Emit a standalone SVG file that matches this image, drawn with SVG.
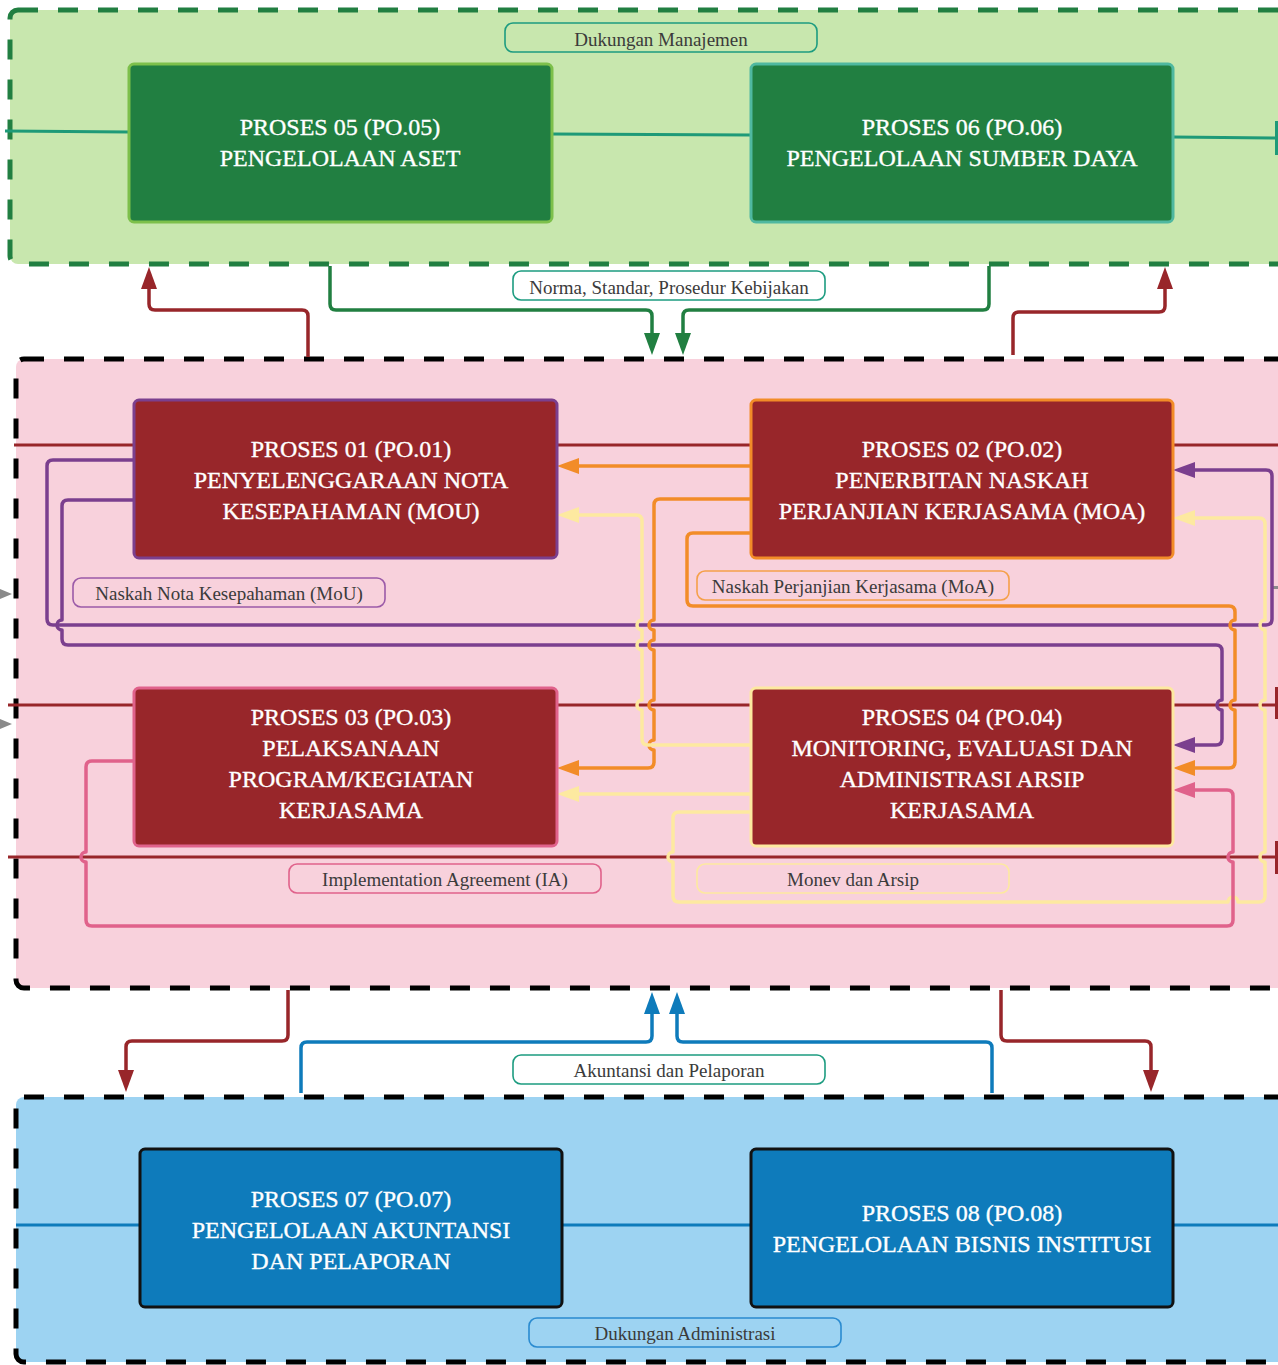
<svg xmlns="http://www.w3.org/2000/svg" width="1278" height="1365" viewBox="0 0 1278 1365">
<style>
.cont{stroke-width:5;stroke-dasharray:20 20}
.node{stroke-width:3}
.nt{font-family:"Liberation Serif",serif;font-size:24px;fill:#fff;stroke:#fff;stroke-width:0.35;text-anchor:middle}
.lb{fill:none;stroke-width:1.6}
.lt{font-family:"Liberation Serif",serif;font-size:19px;fill:#3b3b3b;text-anchor:middle}
.c{fill:none;stroke-width:3.5;stroke-linejoin:round}
.hl{fill:none;stroke-width:3}
</style>
<defs>
<marker id="aR" viewBox="0 0 22 16" refX="16" refY="8" markerWidth="22" markerHeight="16" markerUnits="userSpaceOnUse" orient="auto"><path d="M0,0L22,8L0,16z" fill="#98262a"/></marker>
<marker id="aG" viewBox="0 0 22 16" refX="16" refY="8" markerWidth="22" markerHeight="16" markerUnits="userSpaceOnUse" orient="auto"><path d="M0,0L22,8L0,16z" fill="#217f41"/></marker>
<marker id="aB" viewBox="0 0 22 16" refX="16" refY="8" markerWidth="22" markerHeight="16" markerUnits="userSpaceOnUse" orient="auto"><path d="M0,0L22,8L0,16z" fill="#0e7bbb"/></marker>
<marker id="aP" viewBox="0 0 22 16" refX="16" refY="8" markerWidth="22" markerHeight="16" markerUnits="userSpaceOnUse" orient="auto"><path d="M0,0L22,8L0,16z" fill="#7b3f8e"/></marker>
<marker id="aO" viewBox="0 0 22 16" refX="16" refY="8" markerWidth="22" markerHeight="16" markerUnits="userSpaceOnUse" orient="auto"><path d="M0,0L22,8L0,16z" fill="#f28c28"/></marker>
<marker id="aY" viewBox="0 0 22 16" refX="16" refY="8" markerWidth="22" markerHeight="16" markerUnits="userSpaceOnUse" orient="auto"><path d="M0,0L22,8L0,16z" fill="#fde9a0"/></marker>
<marker id="aK" viewBox="0 0 22 16" refX="16" refY="8" markerWidth="22" markerHeight="16" markerUnits="userSpaceOnUse" orient="auto"><path d="M0,0L22,8L0,16z" fill="#e0628b"/></marker>
</defs>

<g id="containers">
<rect id="grp-manajemen" x="10" y="10" width="1400" height="254" rx="8" fill="#c8e7ae" stroke="#217f41" class="cont"/>
<rect id="grp-inti" x="16" y="359" width="1400" height="629" rx="8" fill="#f8d1dc" stroke="#000" class="cont"/>
<rect id="grp-administrasi" x="16" y="1097" width="1400" height="265" rx="8" fill="#9dd3f2" stroke="#000" class="cont"/>
</g>

<g id="connectors">
<path class="hl" stroke="#1e9a78" d="M5,131 L129,132 M552,134 L751,135 M1173,137 L1278,138"/>
<rect x="1275" y="121" width="3" height="34" fill="#1e9a78"/>
<path class="hl" stroke="#98262a" d="M14,445 H134 M557,445 H751 M1173,445 H1278 M8,705 H134 M557,705 H751 M1173,705 H1278 M8,857 H1278"/>
<rect x="1275" y="687" width="3" height="32" fill="#98262a"/>
<rect x="1275" y="841" width="3" height="33" fill="#98262a"/>
<path class="hl" stroke="#0e7bbb" d="M16,1225 H140 M562,1225 H751 M1173,1225 H1278"/>
<path d="M0,589 L12,594 L0,599z M0,719 L12,724 L0,729z" fill="#8a8a8a"/>
<rect x="1272" y="586" width="6" height="3" fill="#8a8a8a"/>

<path class="c" stroke="#217f41" marker-end="url(#aG)" d="M330,266 V304 Q330,310 336,310 H646 Q652,310 652,316 V349"/>
<path class="c" stroke="#217f41" marker-end="url(#aG)" d="M989,266 V304 Q989,310 983,310 H689 Q683,310 683,316 V349"/>
<path class="c" stroke="#98262a" marker-end="url(#aR)" d="M308,357 V316 Q308,310 302,310 H155 Q149,310 149,304 V273"/>
<path class="c" stroke="#98262a" marker-end="url(#aR)" d="M1013,355 V318 Q1013,312 1019,312 H1159 Q1165,312 1165,306 V273"/>

<path class="c" stroke="#98262a" marker-end="url(#aR)" d="M288,990 V1035 Q288,1041 282,1041 H132 Q126,1041 126,1047 V1086"/>
<path class="c" stroke="#98262a" marker-end="url(#aR)" d="M1001,990 V1035 Q1001,1041 1007,1041 H1145 Q1151,1041 1151,1047 V1086"/>
<path class="c" stroke="#0e7bbb" marker-end="url(#aB)" d="M301,1093 V1048 Q301,1042 307,1042 H646 Q652,1042 652,1036 V998"/>
<path class="c" stroke="#0e7bbb" marker-end="url(#aB)" d="M992,1093 V1048 Q992,1042 986,1042 H683 Q677,1042 677,1036 V998"/>

<path class="c" stroke="#7b3f8e" marker-end="url(#aP)" d="M134,460 H53 Q47,460 47,466 V619 Q47,625 53,625 H1266 Q1272,625 1272,619 V476 Q1272,470 1266,470 H1179"/>
<path class="c" stroke="#7b3f8e" marker-end="url(#aP)" d="M134,500 H68 Q62,500 62,506 V620 A5,5 0 0 0 62,630 V639 Q62,645 68,645 H1216 Q1222,645 1222,651 V700 A5,5 0 0 0 1222,710 V739 Q1222,745 1216,745 H1179"/>
<path class="c" stroke="#f28c28" marker-end="url(#aO)" d="M751,466 H563"/>
<path class="c" stroke="#f28c28" marker-end="url(#aO)" d="M751,499 H660 Q654,499 654,505 V620 A5,5 0 0 0 654,630 V640 A5,5 0 0 0 654,650 V700 A5,5 0 0 0 654,710 V740 A5,5 0 0 0 654,750 V762 Q654,768 648,768 H563"/>
<path class="c" stroke="#f28c28" marker-end="url(#aO)" d="M751,533 H693 Q687,533 687,539 V600 Q687,606 693,606 H1229 Q1235,606 1235,612 V620 A5,5 0 0 0 1235,630 V700 A5,5 0 0 0 1235,710 V762 Q1235,768 1229,768 H1179"/>
<path class="c" stroke="#fde9a0" marker-end="url(#aY)" d="M751,745 H648 Q642,745 642,739 V710 A5,5 0 0 1 642,700 V650 A5,5 0 0 1 642,640 V630 A5,5 0 0 1 642,620 V521 Q642,515 636,515 H563"/>
<path class="c" stroke="#fde9a0" marker-end="url(#aY)" d="M751,794 H563"/>
<path class="c" stroke="#fde9a0" marker-end="url(#aY)" d="M751,812 H679 Q673,812 673,818 V852 A5,5 0 0 0 673,862 V896 Q673,902 679,902 H1228 A5,5 0 0 1 1238,902 H1259 Q1265,902 1265,896 V862 A5,5 0 0 1 1265,852 V710 A5,5 0 0 1 1265,700 V630 A5,5 0 0 1 1265,620 V524 Q1265,518 1259,518 H1179"/>
<path class="c" stroke="#e0628b" marker-end="url(#aK)" d="M134,761 H92 Q86,761 86,767 V852 A5,5 0 0 0 86,862 V920 Q86,926 92,926 H1227 Q1233,926 1233,920 V862 A5,5 0 0 1 1233,852 V796 Q1233,790 1227,790 H1179"/>
</g>

<g id="labels">
<g id="lbl-dukungan-manajemen"><rect class="lb" stroke="#1d9c80" x="505" y="23" width="312" height="29" rx="8"/><text class="lt" x="661" y="46">Dukungan Manajemen</text></g>
<g id="lbl-norma"><rect class="lb" stroke="#1d9c80" x="513" y="271" width="312" height="29" rx="8"/><text class="lt" x="669" y="294">Norma, Standar, Prosedur Kebijakan</text></g>
<g id="lbl-mou"><rect class="lb" stroke="#9b5aa8" x="73" y="578" width="312" height="29" rx="8"/><text class="lt" x="229" y="600">Naskah Nota Kesepahaman (MoU)</text></g>
<g id="lbl-moa"><rect class="lb" stroke="#f5a04a" x="697" y="571" width="312" height="29" rx="8"/><text class="lt" x="853" y="593">Naskah Perjanjian Kerjasama (MoA)</text></g>
<g id="lbl-ia"><rect class="lb" stroke="#e0628b" x="289" y="864" width="312" height="29" rx="8"/><text class="lt" x="445" y="886">Implementation Agreement (IA)</text></g>
<g id="lbl-monev"><rect class="lb" stroke="#fde9a0" x="697" y="864" width="312" height="29" rx="8"/><text class="lt" x="853" y="886">Monev dan Arsip</text></g>
<g id="lbl-akuntansi"><rect class="lb" stroke="#1d9c80" x="513" y="1055" width="312" height="29" rx="8"/><text class="lt" x="669" y="1077">Akuntansi dan Pelaporan</text></g>
<g id="lbl-administrasi"><rect class="lb" stroke="#2a8bd0" x="529" y="1318" width="312" height="29" rx="8"/><text class="lt" x="685" y="1340">Dukungan Administrasi</text></g>
</g>

<g id="po05"><rect class="node" x="129" y="64" width="423" height="158" rx="5" fill="#217f41" stroke="#7dc04b"/><text class="nt" x="340" y="135">PROSES 05 (PO.05)</text><text class="nt" x="340" y="166">PENGELOLAAN ASET</text></g>
<g id="po06"><rect class="node" x="751" y="64" width="422" height="158" rx="5" fill="#217f41" stroke="#4fb8a0"/><text class="nt" x="962" y="135">PROSES 06 (PO.06)</text><text class="nt" x="962" y="166">PENGELOLAAN SUMBER DAYA</text></g>
<g id="po01"><rect class="node" x="134" y="400" width="423" height="158" rx="5" fill="#98262a" stroke="#7b3f8e"/><text class="nt" x="351" y="457">PROSES 01 (PO.01)</text><text class="nt" x="351" y="488">PENYELENGGARAAN NOTA</text><text class="nt" x="351" y="519">KESEPAHAMAN (MOU)</text></g>
<g id="po02"><rect class="node" x="751" y="400" width="422" height="158" rx="5" fill="#98262a" stroke="#f28c28"/><text class="nt" x="962" y="457">PROSES 02 (PO.02)</text><text class="nt" x="962" y="488">PENERBITAN NASKAH</text><text class="nt" x="962" y="519">PERJANJIAN KERJASAMA (MOA)</text></g>
<g id="po03"><rect class="node" x="134" y="688" width="423" height="158" rx="5" fill="#98262a" stroke="#e0628b"/><text class="nt" x="351" y="725">PROSES 03 (PO.03)</text><text class="nt" x="351" y="756">PELAKSANAAN</text><text class="nt" x="351" y="787">PROGRAM/KEGIATAN</text><text class="nt" x="351" y="818">KERJASAMA</text></g>
<g id="po04"><rect class="node" x="751" y="688" width="422" height="158" rx="5" fill="#98262a" stroke="#fde9a0"/><text class="nt" x="962" y="725">PROSES 04 (PO.04)</text><text class="nt" x="962" y="756">MONITORING, EVALUASI DAN</text><text class="nt" x="962" y="787">ADMINISTRASI ARSIP</text><text class="nt" x="962" y="818">KERJASAMA</text></g>
<g id="po07"><rect class="node" x="140" y="1149" width="422" height="158" rx="5" fill="#0e7bbb" stroke="#111"/><text class="nt" x="351" y="1207">PROSES 07 (PO.07)</text><text class="nt" x="351" y="1238">PENGELOLAAN AKUNTANSI</text><text class="nt" x="351" y="1269">DAN PELAPORAN</text></g>
<g id="po08"><rect class="node" x="751" y="1149" width="422" height="158" rx="5" fill="#0e7bbb" stroke="#111"/><text class="nt" x="962" y="1221">PROSES 08 (PO.08)</text><text class="nt" x="962" y="1252">PENGELOLAAN BISNIS INSTITUSI</text></g>
</svg>
